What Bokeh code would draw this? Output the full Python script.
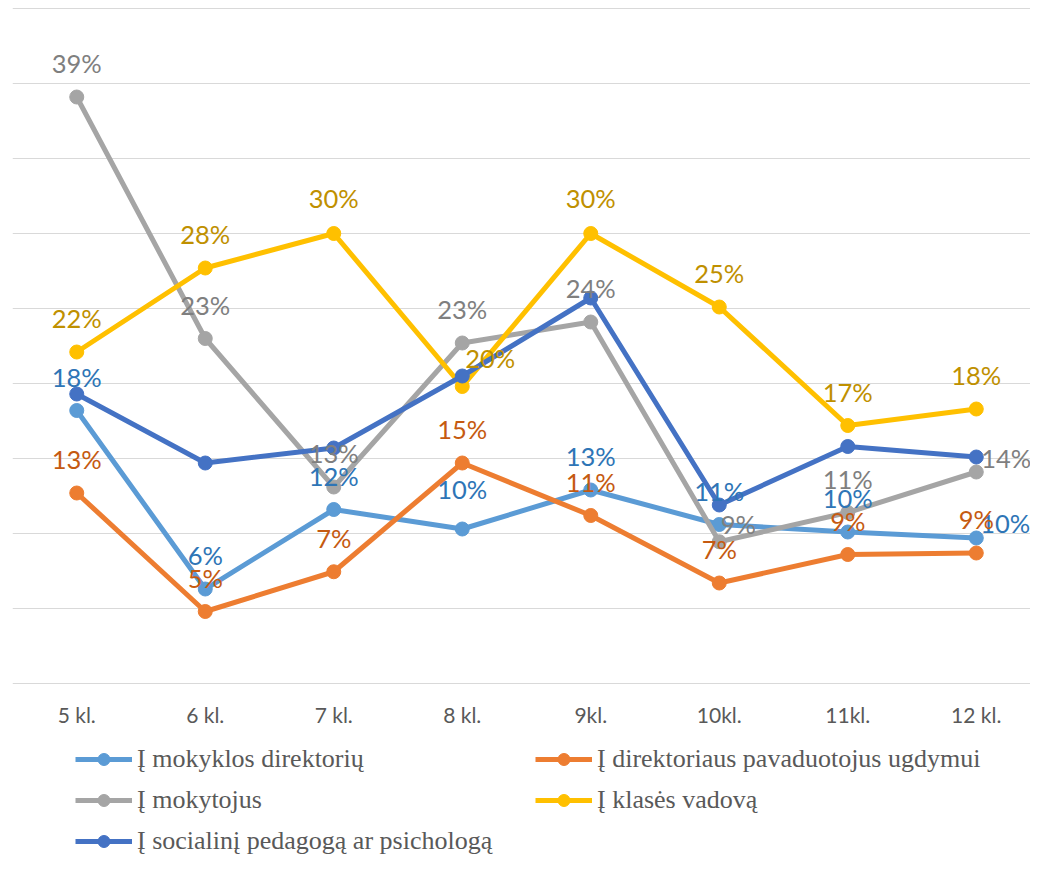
from bokeh.plotting import figure
from bokeh.models import Range1d, FixedTicker, Legend, LegendItem, ColumnDataSource
from bokeh.embed import file_html
from bokeh.resources import INLINE
from bokeh.core.properties import value

# ---- data ----
categories = ["5 kl.", "6 kl.", "7 kl.", "8 kl.", "9kl.", "10kl.", "11kl.", "12 kl."]
direktoriu = [18.2, 6.3, 11.6, 10.3, 12.9, 10.6, 10.1, 9.7]
pavaduotojus = [12.7, 4.8, 7.45, 14.7, 11.2, 6.7, 8.6, 8.7]
mokytojus = [39.1, 23.0, 13.1, 22.7, 24.1, 9.45, 11.4, 14.1]
vadova = [22.1, 27.7, 30.0, 19.8, 30.0, 25.1, 17.2, 18.3]
socialini = [19.3, 14.7, 15.7, 20.5, 25.7, 11.9, 15.8, 15.1]
series_names = [
    "Į mokyklos direktorių",
    "Į direktoriaus pavaduotojus ugdymui",
    "Į mokytojus",
    "Į klasės vadovą",
    "Į socialinį pedagogą ar psichologą",
]
y_ticks = [0, 5, 10, 15, 20, 25, 30, 35, 40, 45]

# ---- styles / layout ----
series_values = [direktoriu, pavaduotojus, mokytojus, vadova, socialini]
line_colors = ["#5B9BD5", "#ED7D31", "#A5A5A5", "#FFC000", "#4472C4"]
label_colors = ["#2E75B6", "#C55A11", "#7F7F7F", "#BF9000", None]
# label nudges (screen px) for individual points: (series index, category index) -> (dx, dy)
nudges = {
    (0, 3): (0, -40), (0, 7): (29, -15),
    (2, 5): (19, -18), (2, 7): (30, -14),
    (3, 2): (0, -36), (3, 3): (28, -29), (3, 4): (0, -36),
}
Y_TOP = 45.067          # a hair above 45 so the top gridline is visible
Y_BOTTOM = -11.533      # frame extends below 0 to host category labels and legend
CAT_LABEL_Y = -2.07     # data-space row for category labels

p = figure(width=1030, height=856, output_backend="svg", toolbar_location=None,
           x_range=Range1d(-0.5, 7.422), y_range=Range1d(Y_BOTTOM, Y_TOP),
           min_border_left=12, min_border_right=0, min_border_top=7, min_border_bottom=0)
p.outline_line_color = None
p.background_fill_color = "white"
p.yaxis.visible = False
p.xaxis.visible = False
p.xgrid.visible = False
p.ygrid.ticker = FixedTicker(ticks=y_ticks)
p.ygrid.grid_line_color = "#D9D9D9"
p.ygrid.grid_line_width = 1

xs = list(range(len(categories)))

# category labels along the bottom
p.text(x=xs, y=[CAT_LABEL_Y] * len(xs), text=categories,
       text_align="center", text_baseline="middle", text_color="#595959",
       text_font=value("Lato"), text_font_size="21px")

renderers = []
for vals, col in zip(series_values, line_colors):
    src = ColumnDataSource(dict(x=xs, y=vals))
    l = p.line("x", "y", source=src, line_color=col, line_width=5, line_join="round")
    s = p.scatter("x", "y", source=src, size=14, marker="circle",
                  fill_color=col, line_color=col)
    renderers.append([l, s])

for si, (vals, tcol) in enumerate(zip(series_values, label_colors)):
    if tcol is None:
        continue
    dx = [nudges.get((si, i), (0, -34))[0] for i in xs]
    dy = [nudges.get((si, i), (0, -34))[1] for i in xs]
    src = ColumnDataSource(dict(x=xs, y=vals, t=[f"{round(v)}%" for v in vals], dx=dx, dy=dy))
    p.text("x", "y", text="t", source=src, x_offset="dx", y_offset="dy",
           text_align="center", text_baseline="middle", text_color=tcol,
           text_font=value("Lato"), text_font_size="25.5px")

def make_legend(idx, loc):
    leg = Legend(items=[LegendItem(label=series_names[i], renderers=renderers[i]) for i in idx],
                 location=loc, orientation="vertical")
    leg.border_line_color = None
    leg.background_fill_alpha = 0
    leg.padding = 0
    leg.margin = 0
    leg.spacing = 11
    leg.glyph_width = 57
    leg.glyph_height = 30
    leg.label_height = 30
    leg.label_standoff = 5
    leg.label_text_font = "Liberation Serif"
    leg.label_text_font_size = "26px"
    leg.label_text_color = "#595959"
    return leg

p.add_layout(make_legend([0, 2, 4], (63, 0)))
p.add_layout(make_legend([1, 3], (523, 41)))

open("out.html", "w").write(file_html(p, INLINE))
